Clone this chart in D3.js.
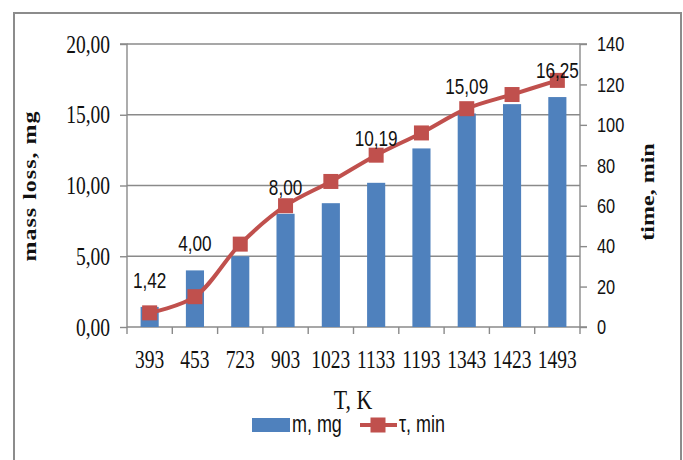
<!DOCTYPE html>
<html>
<head>
<meta charset="utf-8">
<script src="https://cdn.jsdelivr.net/npm/d3@7"></script>
<style>
  html, body { margin: 0; padding: 0; background: #fff; }
  svg { display: block; }
</style>
</head>
<body>
<svg id="chart" width="683" height="460"></svg>
<script>
// ---- data ----
const categories = ["393", "453", "723", "903", "1023", "1133", "1193", "1343", "1423", "1493"];
const massLoss = [1.42, 4.00, 5.00, 8.00, 8.75, 10.19, 12.62, 15.09, 15.75, 16.25];
const timeMin = [7, 15, 41, 60, 72, 85, 96, 108, 115, 122];
const labeledIndex = [0, 1, 3, 5, 7, 9];
const leftTicks = [0, 5, 10, 15, 20];
const rightTicks = [0, 20, 40, 60, 80, 100, 120, 140];
const seriesNames = ["m, mg", "τ, min"];
const xTitle = "T, K";
const yLeftTitle = "mass loss, mg";
const yRightTitle = "time, min";

// ---- layout / style ----
const W = 683, H = 460;
const plot = { left: 127, right: 580, top: 44, bottom: 327 };
const SX = 0.78; // horizontal squish of the original raster
const barColor = "#4F81BD", lineColor = "#C0504D", gridColor = "#8a8a8a";
const serif = "'Liberation Serif', 'Times New Roman', serif";
const sans = "'Liberation Sans', Arial, sans-serif";

const svg = d3.select("#chart");
svg.append("rect").attr("width", W).attr("height", H).attr("fill", "#fff");
svg.append("rect").attr("x", 14).attr("y", 13).attr("width", 667).attr("height", 470)
  .attr("fill", "none").attr("stroke", "#8c8c8c").attr("stroke-width", 2);

const x = d3.scaleBand().domain(categories).range([plot.left, plot.right])
  .paddingInner(0.6).paddingOuter(0.3);
const yL = d3.scaleLinear().domain([0, 20]).range([plot.bottom, plot.top]);
const yR = d3.scaleLinear().domain([0, 140]).range([plot.bottom, plot.top]);
const step = x.step();
const fmtComma = d => d3.format(".2f")(d).replace(".", ",");

function squish(sel) {
  sel.each(function () {
    const t = d3.select(this);
    const xv = +(t.attr("x") || 0);
    t.attr("x", xv / SX).attr("transform", `scale(${SX},1)`);
  });
}

// gridlines
svg.append("g").selectAll("line").data(leftTicks.filter(d => d > 0)).join("line")
  .attr("x1", plot.left).attr("x2", plot.right)
  .attr("y1", d => yL(d)).attr("y2", d => yL(d))
  .attr("stroke", gridColor).attr("stroke-width", 1.4);

// left axis
const gL = svg.append("g").attr("transform", `translate(${plot.left},0)`)
  .call(d3.axisLeft(yL).tickValues(leftTicks).tickFormat(fmtComma).tickSize(7).tickPadding(10));
gL.selectAll("path, line").attr("stroke", gridColor).attr("stroke-width", 1.4);
gL.select(".domain").attr("d", `M-7,${plot.top}H0V${plot.bottom}`);
gL.selectAll("text").attr("font-family", serif).attr("font-size", 25).attr("fill", "#111").call(squish);

// right axis
const gR = svg.append("g").attr("transform", `translate(${plot.right},0)`)
  .call(d3.axisRight(yR).tickValues(rightTicks).tickSize(7).tickPadding(10));
gR.selectAll("path, line").attr("stroke", gridColor).attr("stroke-width", 1.4);
gR.select(".domain").attr("d", `M7,${plot.top}H0V${plot.bottom}H7`);
gR.selectAll("text").attr("font-family", sans).attr("font-size", 21).attr("fill", "#111").call(squish);

// bottom axis: line + boundary ticks + labels
const bounds = categories.map(c => x(c) - step * x.paddingInner() / 2).concat([plot.right]);
svg.append("line").attr("x1", plot.left).attr("x2", plot.right)
  .attr("y1", plot.bottom).attr("y2", plot.bottom).attr("stroke", gridColor).attr("stroke-width", 1.4);
svg.append("g").selectAll("line").data(bounds).join("line")
  .attr("x1", d => d).attr("x2", d => d).attr("y1", plot.bottom).attr("y2", plot.bottom + 7)
  .attr("stroke", gridColor).attr("stroke-width", 1.4);
svg.append("g").selectAll("text").data(categories).join("text")
  .attr("x", d => x(d) + x.bandwidth() / 2).attr("y", 368)
  .attr("text-anchor", "middle").attr("font-family", serif).attr("font-size", 25).attr("fill", "#111")
  .text(d => d).call(squish);

// bars
svg.append("g").selectAll("rect").data(massLoss).join("rect")
  .attr("x", (d, i) => x(categories[i])).attr("width", x.bandwidth())
  .attr("y", d => yL(d)).attr("height", d => yL(0) - yL(d))
  .attr("fill", barColor);

// line
const line = d3.line().x((d, i) => x(categories[i]) + x.bandwidth() / 2).y(d => yR(d))
  .curve(d3.curveCatmullRom.alpha(0.5));
svg.append("path").datum(timeMin).attr("d", line).attr("fill", "none")
  .attr("stroke", lineColor).attr("stroke-width", 4).attr("stroke-linejoin", "round");
const ms = 15;
svg.append("g").selectAll("rect").data(timeMin).join("rect")
  .attr("x", (d, i) => x(categories[i]) + x.bandwidth() / 2 - ms / 2)
  .attr("y", d => yR(d) - ms / 2).attr("width", ms).attr("height", ms)
  .attr("fill", lineColor);

// data labels (bar values)
svg.append("g").selectAll("text").data(labeledIndex).join("text")
  .attr("x", i => x(categories[i]) + x.bandwidth() / 2)
  .attr("y", i => {
    let c = yL(massLoss[i]) - 27;
    const m = yR(timeMin[i]);
    if (Math.abs(c - m) < 8) c = m - 17;
    return c + 8;
  })
  .attr("text-anchor", "middle").attr("font-family", sans).attr("font-size", 22).attr("fill", "#111")
  .text(i => fmtComma(massLoss[i])).call(squish);

// axis titles
svg.append("text").attr("x", 0).attr("y", 0)
  .attr("transform", `translate(353,409) scale(${SX},1)`)
  .attr("text-anchor", "middle").attr("font-family", serif).attr("font-size", 28).attr("fill", "#111")
  .text(xTitle);
svg.append("text")
  .attr("transform", `translate(36,186) scale(${SX},1) rotate(-90)`)
  .attr("text-anchor", "middle").attr("font-family", serif).attr("font-weight", "bold")
  .attr("font-size", 24).attr("letter-spacing", 1).attr("fill", "#111")
  .text(yLeftTitle);
svg.append("text")
  .attr("transform", `translate(654,192) scale(${SX},1) rotate(-90)`)
  .attr("text-anchor", "middle").attr("font-family", serif).attr("font-weight", "bold")
  .attr("font-size", 24).attr("fill", "#111")
  .text(yRightTitle);

// legend
const lg = svg.append("g");
lg.append("rect").attr("x", 252).attr("y", 418).attr("width", 38).attr("height", 14).attr("fill", barColor);
lg.append("text").attr("x", 292).attr("y", 432).attr("font-family", sans).attr("font-size", 23)
  .attr("fill", "#111").text(seriesNames[0]).call(squish);
lg.append("line").attr("x1", 360).attr("x2", 397).attr("y1", 425).attr("y2", 425)
  .attr("stroke", lineColor).attr("stroke-width", 4);
lg.append("rect").attr("x", 378 - ms / 2).attr("y", 425 - ms / 2).attr("width", ms).attr("height", ms)
  .attr("fill", lineColor);
lg.append("text").attr("x", 399).attr("y", 432).attr("font-family", sans).attr("font-size", 23)
  .attr("fill", "#111").text(seriesNames[1]).call(squish);
</script>
</body>
</html>
